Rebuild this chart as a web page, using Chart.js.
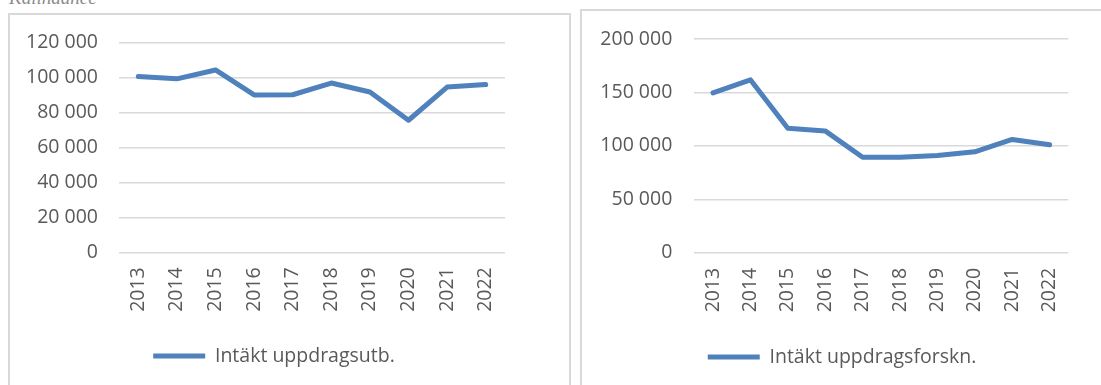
<!DOCTYPE html>
<html lang="sv">
<head>
<meta charset="utf-8">
<title>Intäkter uppdrag</title>
<script src="https://cdn.jsdelivr.net/npm/chart.js@4/dist/chart.umd.min.js"></script>
<style>
  html, body { margin: 0; padding: 0; background: #fff; width: 1101px; height: 385px; overflow: hidden; position: relative; }
  .caption { position: absolute; left: 9px; top: -13px; font: italic 19px "Liberation Serif", serif; color: #8c8c8c; }
  .frame { position: absolute; border: 2px solid #d9d9d9; border-bottom: none; box-sizing: border-box; }
  #frameUtb { left: 8px; top: 13px; width: 563px; height: 380px; }
  #frameForskn { left: 580px; top: 9px; width: 540px; height: 380px; }
  canvas { position: absolute; }
  #utbChart { left: 10px; top: 15px; }
  #forsknChart { left: 582px; top: 11px; }
</style>
</head>
<body>
<div class="caption">Kalinadnce</div>
<div class="frame" id="frameUtb"></div>
<div class="frame" id="frameForskn"></div>
<canvas id="utbChart" width="528" height="370"></canvas>
<canvas id="forsknChart" width="520" height="374"></canvas>
<script>
// Years on the category axis
const years = ['2013', '2014', '2015', '2016', '2017', '2018', '2019', '2020', '2021', '2022'];

// Intäkt uppdragsutbildning (tkr)
const uppdragsutb = [100700, 99300, 104400, 90100, 90200, 96900, 91800, 75600, 94600, 96000];

// Intäkt uppdragsforskning (tkr)
const uppdragsforskn = [149500, 161800, 116500, 114000, 89300, 89400, 91000, 94500, 106000, 101000];

const lineColor = '#4f81bd';
const textColor = '#595959';
const gridColor = '#d9d9d9';
const fontFamily = '"Open Sans", "Noto Sans", sans-serif';
const fontSize = 19.5;

function spaced(v) {
    return String(v).replace(/\B(?=(\d{3})+(?!\d))/g, ' ');
}

function lineChart(id, label, values, yMax, yStep, opts) {
    const ctx = document.getElementById(id).getContext('2d');
    return new Chart(ctx, {
        type: 'line',
        data: {
            labels: years,
            datasets: [{
                label: label,
                data: values,
                borderColor: lineColor,
                backgroundColor: lineColor,
                borderWidth: 5,
                borderCapStyle: 'round',
                borderJoinStyle: 'round',
                pointRadius: 0,
                tension: 0,
                fill: false
            }]
        },
        options: {
            responsive: false,
            animation: false,
            layout: {
                padding: { top: opts.top, right: 0, bottom: opts.bottom, left: 0 }
            },
            plugins: {
                legend: {
                    position: 'bottom',
                    labels: {
                        usePointStyle: true,
                        pointStyle: 'line',
                        pointStyleWidth: 52,
                        color: textColor,
                        font: { family: fontFamily, size: fontSize }
                    }
                },
                tooltip: { enabled: false }
            },
            scales: {
                x: {
                    offset: true,
                    grid: { display: false, drawTicks: false },
                    border: { display: false },
                    ticks: {
                        color: textColor,
                        font: { family: fontFamily, size: fontSize },
                        minRotation: 90,
                        maxRotation: 90,
                        padding: 15
                    },
                    afterFit: s => { s.height = opts.xHeight; }
                },
                y: {
                    min: 0,
                    max: yMax,
                    grid: {
                        color: gridColor,
                        lineWidth: 1.5,
                        tickLength: opts.yGap - 5,
                        tickColor: 'rgba(0,0,0,0)'
                    },
                    border: { display: false },
                    ticks: {
                        stepSize: yStep,
                        color: textColor,
                        font: { family: fontFamily, size: fontSize },
                        padding: 5,
                        callback: v => spaced(v)
                    },
                    afterFit: s => { s.width = opts.yWidth; }
                },
                // empty spacer on the right so the legend centres on the whole frame
                spacer: {
                    type: 'linear',
                    position: 'right',
                    grid: { display: false },
                    border: { display: false },
                    ticks: { display: false },
                    afterFit: s => { s.width = opts.right; }
                }
            }
        }
    });
}

lineChart('utbChart', 'Intäkt uppdragsutb.', uppdragsutb, 120000, 20000,
    { top: 27.7, right: 33, bottom: 9.25, xHeight: 84, yWidth: 109, yGap: 21 });

lineChart('forsknChart', 'Intäkt uppdragsforskn.', uppdragsforskn, 200000, 50000,
    { top: 28, right: 33.7, bottom: 8.25, xHeight: 84.5, yWidth: 112.3, yGap: 22 });
</script>
</body>
</html>
